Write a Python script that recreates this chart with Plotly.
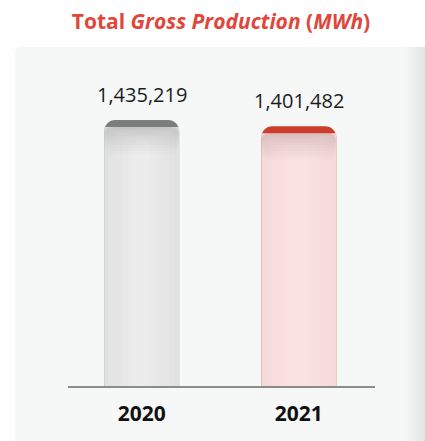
import plotly.graph_objects as go

categories = ["2020", "2021"]
values = [1435219, 1401482]
value_labels = ["1,435,219", "1,401,482"]
tick_labels = ["2020", "2021"]

cap_colors = ["#7d7d7d", "#cc3e2a"]
edge_colors = ["#e1e1e1", "#f6dada"]
center_colors = ["#ececec", "#fbe2e2"]

W, H = 425, 441
L, R, T, B = 68, 50, 60, 55
plot_w = W - L - R
plot_h = H - T - B
ymax = values[0] * plot_h / 266.0
px = ymax / plot_h  # data units per pixel
bar_w = 0.477
cap_px = 7
idx = list(range(len(categories)))


def mix(c1, c2, t):
    a = [int(c1[i:i + 2], 16) for i in (1, 3, 5)]
    b = [int(c2[i:i + 2], 16) for i in (1, 3, 5)]
    return "#" + "".join(f"{round(a[k] + (b[k] - a[k]) * t):02x}" for k in range(3))


fig = go.Figure()
# cap
fig.add_bar(x=idx, y=values, width=bar_w,
            marker=dict(color=cap_colors, line_width=0, cornerradius=11),
            hoverinfo="skip")
# body with horizontal gradient (nested bars)
body_tops = [v - cap_px * px for v in values]
hsteps = 6
for s in range(hsteps + 1):
    t = s / hsteps
    wdt = bar_w * (1 - 0.75 * t)
    fig.add_bar(x=idx, y=[bt - (2 * s if s else 0) * px for bt in body_tops], width=wdt,
                marker=dict(color=[mix(edge_colors[i], center_colors[i], t) for i in range(2)],
                            line_width=0, cornerradius=8),
                hoverinfo="skip")
# vertical darkening near top of body
vsteps = 9
for s in range(1, vsteps + 1):
    fig.add_bar(x=idx, y=[3 * s * px] * 2, base=[bt - 3 * s * px for bt in body_tops], width=bar_w,
                marker=dict(color="rgba(0,0,0,0.011)", line_width=0, cornerradius=8),
                hoverinfo="skip")

for i, v, lab in zip(idx, values, value_labels):
    fig.add_annotation(x=i, y=v, text=lab, showarrow=False, yanchor="bottom", yshift=10,
                       font=dict(family="Open Sans", size=20, color="#1c1c1c"))


def px_x(x):
    return (x - L) / plot_w


def px_y(y):
    return (H - B - y) / plot_h


x0, x1, y0, y1, r = 15, 425, 47, 441, 6
path = (f"M {px_x(x0)},{px_y(y1)} L {px_x(x0)},{px_y(y0 + r)} "
        f"Q {px_x(x0)},{px_y(y0)} {px_x(x0 + r)},{px_y(y0)} "
        f"L {px_x(x1)},{px_y(y0)} L {px_x(x1)},{px_y(y1)} Z")
shapes = [dict(type="path", path=path, xref="paper", yref="paper",
               fillcolor="#f6f8f8", line_width=0, layer="below")]
n = 12
for i in range(n):
    xa = 401 + i * 2
    shapes.append(dict(type="rect", xref="paper", yref="paper",
                       x0=px_x(xa), x1=px_x(xa + 2), y0=px_y(y1), y1=px_y(y0),
                       fillcolor=mix("#f6f8f8", "#e3e4e4", ((i + 1) / n) ** 1.5),
                       line_width=0, layer="below"))

fig.update_layout(
    width=W, height=H,
    margin=dict(l=L, r=R, t=T, b=B, pad=0),
    paper_bgcolor="white", plot_bgcolor="rgba(0,0,0,0)",
    barmode="overlay", showlegend=False,
    shapes=shapes,
    title=dict(text="<b>Total <i>Gross Production</i> (<i>MWh</i>)</b>",
               x=221 / W, xanchor="center", y=1 - 22 / H, yanchor="middle",
               xref="container", yref="container",
               font=dict(family="Open Sans", size=21, color="#e0473a")),
    xaxis=dict(range=[-0.469, 1.485], showline=True, linecolor="#8c8c8c",
               linewidth=2, showgrid=False, zeroline=False, ticks="",
               tickvals=idx, ticktext=[f"<b>{t}</b>" for t in tick_labels],
               tickfont=dict(family="Open Sans", size=21, color="#111111"),
               ticklabelstandoff=8, fixedrange=True),
    yaxis=dict(visible=False, range=[0, ymax], showgrid=False, zeroline=False, fixedrange=True),
)

fig.write_html("out.html", config={"displayModeBar": False},
               post_script="document.body.style.margin='0';document.body.style.overflow='hidden';")
